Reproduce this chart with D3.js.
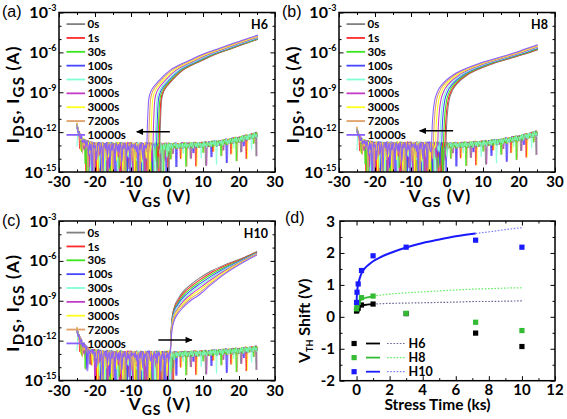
<!DOCTYPE html>
<html><head><meta charset="utf-8">
<script src="https://cdn.jsdelivr.net/npm/d3@7/dist/d3.min.js"></script>
<style>
html,body{margin:0;padding:0;background:#fff;}
svg{display:block;}
text{font-family:Lato,"Open Sans",sans-serif;}
</style></head>
<body>
<svg id="chart" width="567" height="419"></svg>
<script>
// ================= DATA =================
const stressLabels = ["0s","1s","30s","100s","300s","1000s","3000s","7200s","10000s"];
const seriesColors = ["#808080","#ff2a2a","#3ce61e","#4646ff","#7fffd4","#c23cc8","#ffff1e","#e0a068","#8860ff"];
const floorDrawOrder = [8,3,6,1,5,0,7,2,4];

const ivXMajor = [-30,-20,-10,0,10,20,30];
const ivXMinor = [-25,-15,-5,5,15,25];
const ivYMajorExp = [-3,-6,-9,-12,-15];
const ivYMinorExp = [-4,-5,-7,-8,-10,-11,-13,-14];

// Panel (a) H6 : turn-on voltage of each curve, and the transfer-curve shape above turn-on (dV from turn-on, log10 I)
const onsetA = [-2.0,-2.2,-2.5,-2.9,-3.3,-3.9,-4.5,-5.1,-5.6];
const shapeDA = [0,0.15,0.3,0.5,0.9,1.6,2.8,4.5,6.5,9,11,15,20,24,28,31];
const shapeLogA = [-13.0,-11.5,-10.5,-9.6,-9.1,-8.7,-8.3,-7.8,-7.33,-6.95,-6.7,-6.2,-5.7,-5.32,-4.95,-4.69];
const floorVA = [-25,-24.5,-24,-23.5,-23,-22,-21,-18,-10,0,5,10,15,20,25];
const floorLogA = [-11.5,-12.1,-12.4,-12.6,-12.75,-12.9,-13.0,-13.05,-13.05,-13.05,-13.0,-12.95,-12.8,-12.55,-12.2];

// Panel (b) H8
const onsetB = [-0.3,-0.6,-1.0,-1.5,-2.0,-2.6,-3.2,-3.8,-4.3];
const shapeDB = [0,0.2,0.45,0.9,1.6,3.2,6,9.7,13.4,18,22.6,26,29.5];
const shapeLogB = [-13.0,-11.5,-10.5,-9.6,-9.0,-8.33,-7.7,-7.2,-6.82,-6.45,-6.07,-5.75,-5.42];
const floorVB = [-25,-24.5,-24,-23.5,-23,-22,-21,-18,-10,0,5,10,15,20,25];
const floorLogB = [-11.8,-12.3,-12.55,-12.7,-12.8,-12.9,-12.95,-13.0,-13.0,-13.0,-12.95,-12.85,-12.7,-12.45,-12.1];

// Panel (c) H10 : all curves turn on near 0.9 V, then spread
const onsetC = [0.9,0.9,0.9,0.9,0.9,0.9,0.9,0.9,0.9];
const curveVC = [0.9,1.1,1.4,2,3,4.5,6.5,9,12,16,20,25];
const curveC0s    = [-13,-11.5,-10.3,-9.5,-8.9,-8.3,-7.8,-7.3,-6.8,-6.3,-5.9,-5.3];
const curveC1s    = [-13,-11.6,-10.4,-9.6,-9.05,-8.45,-7.95,-7.45,-6.93,-6.39,-5.95,-5.33];
const curveC30s   = [-13,-11.7,-10.5,-9.7,-9.2,-8.6,-8.1,-7.6,-7.06,-6.48,-6.0,-5.36];
const curveC100s  = [-13,-11.8,-10.6,-9.8,-9.3,-8.75,-8.25,-7.75,-7.2,-6.57,-6.05,-5.39];
const curveC300s  = [-13,-11.85,-10.7,-9.95,-9.45,-8.9,-8.4,-7.9,-7.33,-6.65,-6.1,-5.42];
const curveC1000s = [-13,-11.9,-10.8,-10.1,-9.6,-9.05,-8.55,-8.05,-7.46,-6.74,-6.15,-5.45];
const curveC3000s = [-13,-12.0,-10.9,-10.2,-9.7,-9.2,-8.7,-8.2,-7.6,-6.83,-6.2,-5.48];
const curveC7200s = [-13,-12.1,-11.0,-10.35,-9.85,-9.35,-8.85,-8.4,-7.73,-6.92,-6.25,-5.52];
const curveC10000s= [-13,-12.2,-11.2,-10.5,-10.0,-9.5,-9.0,-8.55,-7.85,-7.0,-6.3,-5.55];
const floorVC = [-25,-24.5,-24,-23.5,-23,-22,-21,-18,-10,0,5,10,15,20,25];
const floorLogC = [-11.2,-11.7,-12.0,-12.25,-12.45,-12.7,-12.85,-13.0,-13.05,-13.05,-13.0,-12.95,-12.85,-12.75,-12.6];

// measurement noise around the floor (decades), read as a typical pattern
const noiseDense = [0.1,-0.22,0.2,-0.45,0.04,-2.4,0.16,-0.28,0.24,-0.1,-1.0,0.2,-0.35,0.08,-0.16,-1.7,0.12,0.28,-0.2,-0.5,0.06,-2.8,-0.1,0.2,-0.3,0.14,-0.7,0.24,-0.08,0.18,-1.3,-0.2,0.1,-0.38,0.26,-2.2,0.0,-0.24,0.16,-0.55,0.22,-0.14,-1.9,0.12,-0.3,0.2,-0.06,-0.85,0.18,-0.4,0.1,-3.0,0.24,-0.18,0.06,-0.42,-1.1,0.14,0.26,-0.12,-0.6,0.2,-0.28,-2.0,0.08,0.16,-0.22,0.28,-0.75,-0.04,0.18,-1.5,0.12,-0.34,0.22,-0.1,-2.6,0.04,0.2,-0.4,0.14,-0.5,0.26,-0.16,-1.2,0.1,-0.2,0.24,-0.06,-0.95,0.16,-0.3,0.08,-2.3,0.2,-0.14,0.12];
const noiseSparse = [0.08,-0.2,0.16,-0.08,0.22,-0.25,0.04,0.18,-0.16,0.12,-0.22,0.2,-0.04,0.14,-1.0,0.08,-0.18,0.22,-0.12,0.06,-0.26,0.16,0.0,-0.1,0.2,-0.2,0.12,-0.06,0.18,-0.14,0.24,-1.6,0.1,-0.2,0.06,0.16,-0.12,0.22,-0.24,0.08,0.14,-0.04,0.2,-0.16,0.1,-0.22,0.18,0.02,-0.12,0.16,-0.6,0.12,-0.08,0.2,-0.18,0.06];
const denseRangeA = [-22.5,0.5];
const denseRangeB = [-22.5,0];
const denseRangeC = [-20,2];

// Panel (d) threshold-voltage shift vs stress time
const dTimesKs = [0.001,0.03,0.1,0.3,1,3,7.2,10];
const shiftH6  = [0.18,0.22,0.27,0.37,0.4,0.1,-0.51,-0.93];
const shiftH8  = [0.25,0.35,0.45,0.6,0.65,0.11,-0.17,-0.43];
const shiftH10 = [0.45,0.77,1.03,1.45,1.91,2.18,2.4,2.18];
const fitTSolid10 = [0.001,0.01,0.03,0.06,0.1,0.2,0.3,0.5,0.75,1,1.5,2,3,4,5,6,7.2];
const fitH10Solid = [0.3,0.55,0.75,0.9,1.02,1.22,1.36,1.52,1.64,1.74,1.88,1.99,2.17,2.31,2.42,2.52,2.61];
const fitTDot10 = [7.2,8,9,10];
const fitH10Dot = [2.61,2.66,2.73,2.79];
const fitTSolid = [0.001,0.01,0.03,0.1,0.2,0.3,0.5,0.75,1];
const fitH8Solid = [0.22,0.3,0.36,0.44,0.5,0.54,0.59,0.62,0.65];
const fitH6Solid = [0.15,0.2,0.24,0.29,0.33,0.35,0.37,0.39,0.4];
const fitTDot = [1,2,3,4,5,6,7.2,8,9,10];
const fitH8Dot = [0.65,0.71,0.75,0.78,0.81,0.84,0.87,0.88,0.9,0.91];
const fitH6Dot = [0.4,0.42,0.43,0.44,0.45,0.46,0.48,0.48,0.49,0.5];
const dXMajor = [0,2,4,6,8,10,12];
const dXMinor = [1,3,5,7,9,11];
const dYMajor = [3,2,1,0,-1,-2];
const dYMinor = [2.5,1.5,0.5,-0.5,-1.5];
const dSeriesNames = ["H6","H8","H10"];
const dSquareColors = ["#000000","#33bb33","#1a1aff"];
const dSolidColors = ["#000000","#33bb33","#1a1aff"];
const dDotColors = ["#6a6a9a","#66ee66","#7f7fff"];

// ================= DRAWING =================
const svg = d3.select("#chart");
const frames = {
  a:{x0:59,x1:275,y0:12.5,y1:172},
  b:{x0:339,x1:555,y0:12.5,y1:172},
  c:{x0:59,x1:275,y0:221,y1:380.5},
  d:{x0:340,x1:555,y0:221,y1:380.7}
};
const defs = svg.append("defs");
defs.append("marker").attr("id","ah").attr("viewBox","0 0 10 10").attr("refX",9).attr("refY",5)
  .attr("markerUnits","userSpaceOnUse").attr("markerWidth",8).attr("markerHeight",7).attr("orient","auto")
  .append("path").attr("d","M0,0.5 L10,5 L0,9.5 z").attr("fill","#000");

function ticks(g, f, xs, ys, xMaj, xMin, yMaj, yMin, majLen, minLen) {
  const add = (ax, tf, vals, size) => {
    const a = g.append("g").attr("transform", tf).call(ax.tickValues(vals).tickSize(size).tickFormat(""));
    a.select(".domain").remove();
    a.selectAll("line").attr("stroke","#000").attr("stroke-width",1);
  };
  add(d3.axisBottom(xs), `translate(0,${f.y1})`, xMaj, -majLen);
  add(d3.axisBottom(xs), `translate(0,${f.y1})`, xMin, -minLen);
  add(d3.axisTop(xs), `translate(0,${f.y0})`, xMaj, -majLen);
  add(d3.axisTop(xs), `translate(0,${f.y0})`, xMin, -minLen);
  add(d3.axisLeft(ys), `translate(${f.x0},0)`, yMaj, -majLen);
  add(d3.axisLeft(ys), `translate(${f.x0},0)`, yMin, -minLen);
  add(d3.axisRight(ys), `translate(${f.x1},0)`, yMaj, -majLen);
  add(d3.axisRight(ys), `translate(${f.x1},0)`, yMin, -minLen);
  g.append("rect").attr("x",f.x0).attr("y",f.y0).attr("width",f.x1-f.x0).attr("height",f.y1-f.y0)
    .attr("fill","none").attr("stroke","#000").attr("stroke-width",1.5);
}

function floorAt(v, fv, fl) {
  const i = Math.max(1, d3.bisectLeft(fv, v));
  const j = Math.min(i, fv.length-1);
  const t = (v - fv[j-1])/(fv[j]-fv[j-1]);
  return fl[j-1] + (fl[j]-fl[j-1])*Math.max(0,Math.min(1,t));
}

function ivPanel(key, cfg) {
  const f = frames[key];
  const x = d3.scaleLinear().domain([-30,30]).range([f.x0,f.x1]);
  const y = d3.scaleLog().domain([1e-15,1e-3]).range([f.y1,f.y0]);
  const g = svg.append("g");
  const clipId = "clip"+key;
  defs.append("clipPath").attr("id",clipId).append("rect")
    .attr("x",x(-25)-1).attr("y",f.y0).attr("width",x(25)-x(-25)+2).attr("height",f.y1-f.y0);
  const line = d3.line().x(d=>x(d[0])).y(d=>y(Math.pow(10,d[1]))).curve(d3.curveMonotoneX);
  const cg = g.append("g").attr("clip-path",`url(#${clipId})`);
  const grid = d3.range(0,201).map(i=>-25+0.25*i);
  const noise = (v,i,k,p) => {
    const arr = (v>=cfg.dense[0] && v<=cfg.dense[1]) ? noiseDense : noiseSparse;
    return arr[(i + k*11 + p*43) % arr.length];
  };
  floorDrawOrder.forEach(k=>{
    const igs = grid.map((v,i)=>[v, floorAt(v,cfg.fv,cfg.fl)+noise(v,i,k,0)]);
    cg.append("path").attr("d",line(igs)).attr("fill","none").attr("stroke",seriesColors[k]).attr("stroke-width",0.85);
  });
  for (let k=0;k<9;k++) {
    const on = cfg.onCurve(k);
    const onset = on[0][0];
    const ids = grid.map((v,i)=>[v,i]).filter(d=>d[0]<onset-0.05)
      .map(([v,i])=>[v, floorAt(v,cfg.fv,cfg.fl)+noise(v,i,k,1)]).concat(on);
    cg.append("path").attr("d",line(ids)).attr("fill","none").attr("stroke",seriesColors[k]).attr("stroke-width",1.05);
  }
  g.append("line").attr("x1",x(cfg.arrow[0])).attr("x2",x(cfg.arrow[1]))
    .attr("y1",y(Math.pow(10,cfg.arrow[2]))).attr("y2",y(Math.pow(10,cfg.arrow[2])))
    .attr("stroke","#000").attr("stroke-width",1.4).attr("marker-end","url(#ah)");
  stressLabels.forEach((lab,k)=>{
    const yy = f.y0 + 11.6 + k*13.85;
    g.append("line").attr("x1",f.x0+7.5).attr("x2",f.x0+26).attr("y1",yy).attr("y2",yy)
      .attr("stroke",seriesColors[k]).attr("stroke-width",1.8);
    g.append("text").attr("x",f.x0+28.5).attr("y",yy).attr("dy","0.36em")
      .style("font-size","11.5px").style("font-weight","bold").text(lab);
  });
  g.append("text").attr("x",f.x1-7).attr("y",f.y0+16.5).attr("text-anchor","end")
    .style("font-size","12.5px").style("font-weight","bold").text(cfg.name);
  ticks(g, f, x, y, ivXMajor, ivXMinor, ivYMajorExp.map(e=>Math.pow(10,e)), ivYMinorExp.map(e=>Math.pow(10,e)), 4.5, 2.5);
  ivXMajor.forEach(v=>{
    g.append("text").attr("x",x(v)).attr("y",f.y1+15).attr("text-anchor","middle")
      .style("font-size","15px").style("font-weight","bold").text(v);
  });
  ivYMajorExp.forEach(e=>{
    const t = g.append("text").attr("x",f.x0-2.5).attr("y",y(Math.pow(10,e))+5.5).attr("text-anchor","end")
      .style("font-size","16px").style("font-weight","bold");
    t.append("tspan").text("10");
    t.append("tspan").attr("dy",-7).style("font-size","9px").text(e);
  });
  const xt = g.append("text").attr("x",(f.x0+f.x1)/2-7).attr("y",f.y1+29.5).attr("text-anchor","middle")
    .style("font-size","17px").style("font-weight","bold").style("letter-spacing","1px");
  xt.append("tspan").text("V");
  xt.append("tspan").attr("dy",5).style("font-size","14px").text("GS");
  xt.append("tspan").attr("dy",-5).text(" (V)");
  const yt = g.append("text").attr("transform",`translate(${f.x0-40.5},${(f.y0+f.y1)/2+2}) rotate(-90)`)
    .attr("text-anchor","middle").style("font-size","17px").style("font-weight","bold").style("letter-spacing","1.3px");
  yt.append("tspan").text("I");
  yt.append("tspan").attr("dy",5).style("font-size","15px").text("DS");
  yt.append("tspan").attr("dy",-5).text(", I");
  yt.append("tspan").attr("dy",5).style("font-size","15px").text("GS");
  yt.append("tspan").attr("dy",-5).text(" (A)");
  g.append("text").attr("x",cfg.letterX).attr("y",f.y0+4.5).style("font-family","'Liberation Sans',Arial,sans-serif")
    .style("font-size","16px").text(cfg.letter);
}

ivPanel("a", {name:"H6", letter:"(a)", letterX:2, dense:denseRangeA, fv:floorVA, fl:floorLogA,
  onCurve:k=>shapeDA.map((d,i)=>[onsetA[k]+d, shapeLogA[i]]), arrow:[0.8,-8.4,-11.97]});
ivPanel("b", {name:"H8", letter:"(b)", letterX:282, dense:denseRangeB, fv:floorVB, fl:floorLogB,
  onCurve:k=>shapeDB.map((d,i)=>[onsetB[k]+d, shapeLogB[i]]), arrow:[1.7,-7.6,-11.9]});
const curvesC = [curveC0s,curveC1s,curveC30s,curveC100s,curveC300s,curveC1000s,curveC3000s,curveC7200s,curveC10000s];
ivPanel("c", {name:"H10", letter:"(c)", letterX:2, dense:denseRangeC, fv:floorVC, fl:floorLogC,
  onCurve:k=>curveVC.map((v,i)=>[v+(onsetC[k]-curveVC[0]), curvesC[k][i]]), arrow:[-2.4,6.9,-11.95]});

// ----- panel d -----
(function(){
  const f = frames.d;
  const x = d3.scaleLinear().domain([-1,12]).range([f.x0,f.x1]);
  const y = d3.scaleLinear().domain([-2,3]).range([f.y1,f.y0]);
  const g = svg.append("g");
  const line = d3.line().x(d=>x(d[0])).y(d=>y(d[1])).curve(d3.curveMonotoneX);
  const solids = [[fitTSolid,fitH6Solid],[fitTSolid,fitH8Solid],[fitTSolid10,fitH10Solid]];
  const dots = [[fitTDot,fitH6Dot],[fitTDot,fitH8Dot],[fitTDot10,fitH10Dot]];
  const pts = [shiftH6, shiftH8, shiftH10];
  [0,1,2].forEach(s=>{
    g.append("path").attr("d",line(dots[s][0].map((t,i)=>[t,dots[s][1][i]]))).attr("fill","none")
      .attr("stroke",dDotColors[s]).attr("stroke-width",1.2).attr("stroke-dasharray","1.6,1.6");
    g.append("path").attr("d",line(solids[s][0].map((t,i)=>[t,solids[s][1][i]]))).attr("fill","none")
      .attr("stroke",dSolidColors[s]).attr("stroke-width",s===2?2:1.8);
  });
  [0,1,2].forEach(s=>{
    g.selectAll(null).data(dTimesKs.map((t,i)=>[t,pts[s][i]])).enter().append("rect")
      .attr("x",d=>x(d[0])-2.6).attr("y",d=>y(d[1])-2.6).attr("width",5.2).attr("height",5.2)
      .attr("fill",dSquareColors[s]);
  });
  dSeriesNames.forEach((n,s)=>{
    const yy = 343.5 + s*14.1;
    g.append("rect").attr("x",351.5).attr("y",yy-2.6).attr("width",5.2).attr("height",5.2).attr("fill",dSquareColors[s]);
    g.append("line").attr("x1",366).attr("x2",380).attr("y1",yy).attr("y2",yy).attr("stroke",dSolidColors[s]).attr("stroke-width",1.8);
    g.append("line").attr("x1",387).attr("x2",405).attr("y1",yy).attr("y2",yy).attr("stroke",dDotColors[s])
      .attr("stroke-width",1.2).attr("stroke-dasharray","1.6,1.6");
    g.append("text").attr("x",408.5).attr("y",yy).attr("dy","0.36em").style("font-size","12.5px").style("font-weight","bold").text(n);
  });
  ticks(g, f, x, y, dXMajor, dXMinor, dYMajor, dYMinor, 4.5, 2.5);
  dXMajor.forEach(v=>{
    g.append("text").attr("x",x(v)).attr("y",f.y1+14.3).attr("text-anchor","middle")
      .style("font-size","15px").style("font-weight","bold").text(v);
  });
  dYMajor.forEach(v=>{
    g.append("text").attr("x",f.x0-5).attr("y",y(v)+5.5).attr("text-anchor","end")
      .style("font-size","15px").style("font-weight","bold").text(v);
  });
  g.append("text").attr("x",(f.x0+f.x1)/2-10).attr("y",f.y1+29.5).attr("text-anchor","middle")
    .style("font-size","15.5px").style("font-weight","bold").text("Stress Time (ks)");
  const yt = g.append("text").attr("transform",`translate(${f.x0-30},${(f.y0+f.y1)/2+20}) rotate(-90)`)
    .attr("text-anchor","middle").style("font-size","16px").style("font-weight","bold");
  yt.append("tspan").text("V");
  yt.append("tspan").attr("dy",3).style("font-size","9px").text("TH");
  yt.append("tspan").attr("dy",-3).text(" Shift (V)");
  g.append("text").attr("x",285).attr("y",f.y0+1.5).style("font-family","'Liberation Sans',Arial,sans-serif")
    .style("font-size","16px").text("(d)");
})();
</script>
</body></html>
